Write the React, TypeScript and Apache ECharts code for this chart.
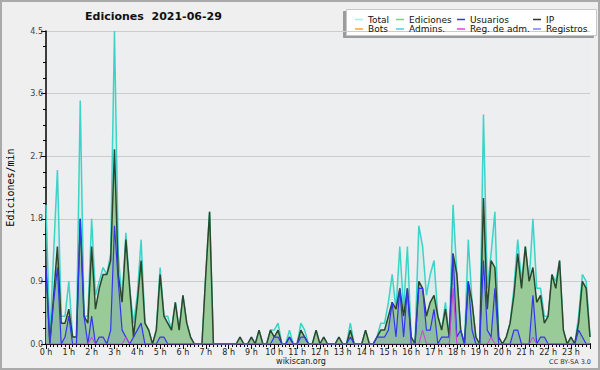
import React, { useEffect, useRef } from "react";
import * as echarts from "echarts";

// 10-minute slots (0 = 00:00 ... 143 = 23:50), values in edits per minute
const totalValues = [
  2.0, 0.1, 1.3, 2.5, 0.4, 0.4, 0.9, 0.1, 0.1, 3.5, 0.4, 0.4, 1.8, 0.7, 0.9, 1.1, 1.0, 1.3, 4.5, 1.3,
  0.6, 1.6, 0.8, 0.3, 0.7, 1.5, 0.3, 0.2, 0, 0.2, 1.1, 0.4, 0.4, 0.2, 0.6, 0.2, 0.7, 0.3, 0.1, 0,
  0, 0, 1.0, 1.9, 0, 0, 0, 0, 0, 0, 0, 0.1, 0, 0, 0.1, 0, 0.2, 0, 0, 0.2,
  0.2, 0.3, 0, 0, 0.2, 0, 0, 0.3, 0.2, 0, 0, 0.2, 0, 0.1, 0, 0, 0, 0.1, 0, 0,
  0.3, 0, 0, 0, 0.2, 0, 0, 0.1, 0.3, 0.3, 0.6, 1.0, 0.5, 1.4, 0.5, 1.4, 0.1, 0, 1.7, 1.4,
  0.7, 1.0, 1.2, 0.4, 0.2, 0.6, 0.1, 2.0, 1.0, 0.2, 0, 1.5, 0.6, 0.1, 0, 3.3, 0.8, 1.3, 1.9, 0.1,
  0, 0.1, 0.3, 0.8, 1.5, 0.9, 1.4, 0.9, 1.8, 0.8, 0.8, 0.4, 0.4, 1.0, 0.9, 1.2, 0.2, 0, 0.1, 0,
  0.4, 1.0, 0.9, 0.1,
];
const edicionesValues = [
  1.1, 0, 0.7, 1.4, 0.3, 0.3, 0.5, 0.1, 0.1, 1.8, 0.4, 0.3, 1.4, 0.5, 0.8, 1.0, 1.0, 1.2, 2.8, 1.0,
  0.6, 1.5, 0.8, 0.1, 0.6, 1.2, 0.3, 0.2, 0, 0.2, 1.0, 0.4, 0.3, 0.2, 0.6, 0.2, 0.7, 0.3, 0.1, 0,
  0, 0, 1.0, 1.9, 0, 0, 0, 0, 0, 0, 0, 0.1, 0, 0, 0.1, 0, 0.2, 0, 0, 0.2,
  0.1, 0.2, 0, 0, 0.1, 0, 0, 0.2, 0.1, 0, 0, 0.2, 0, 0.1, 0, 0, 0, 0.1, 0, 0,
  0.2, 0, 0, 0, 0.2, 0, 0, 0.1, 0.2, 0.2, 0.4, 0.6, 0.5, 0.8, 0.4, 0.8, 0.1, 0, 0.9, 0.8,
  0.4, 0.6, 0.7, 0.4, 0.2, 0.5, 0.1, 1.3, 1.0, 0.2, 0, 0.9, 0.6, 0.1, 0, 2.1, 0.5, 1.2, 1.1, 0.1,
  0, 0.1, 0.3, 0.7, 1.3, 0.8, 1.4, 0.9, 1.1, 0.6, 0.7, 0.3, 0.4, 1.0, 0.8, 1.2, 0.2, 0, 0.1, 0,
  0.3, 0.9, 0.8, 0.1,
];
const usuariosValues = [
  1.1, 0, 0.6, 1.1, 0, 0.1, 0.4, 0, 0, 1.8, 0.4, 0, 0.4, 0, 0.1, 0.1, 0, 0.2, 1.7, 0.9,
  0.2, 0.1, 0, 0.1, 0.2, 0.3, 0, 0, 0, 0, 0.1, 0.1, 0, 0, 0, 0, 0, 0, 0, 0,
  0, 0, 0, 0, 0, 0, 0, 0, 0, 0, 0, 0, 0, 0, 0, 0, 0, 0, 0, 0,
  0.1, 0.1, 0, 0, 0.1, 0, 0, 0.1, 0.1, 0, 0, 0, 0, 0, 0, 0, 0, 0, 0, 0,
  0.1, 0, 0, 0, 0, 0, 0, 0.1, 0.1, 0.1, 0.2, 0.6, 0.1, 0.8, 0.1, 0.8, 0, 0, 0.8, 0.8,
  0.2, 0.2, 0.5, 0, 0.1, 0.1, 0.1, 1.3, 0.1, 0.2, 0, 0.9, 0.2, 0, 0, 1.2, 0.2, 0.1, 0.8, 0,
  0, 0, 0, 0.2, 0.2, 0, 0, 0, 0.7, 0, 0.1, 0.1, 0, 0, 0, 0, 0, 0, 0, 0,
  0.2, 0.1, 0, 0,
];
// Reg. de adm. : non-zero slots only
const regAdmSlots = [12, 21, 99, 107, 117, 128];
const regAdmValues = [0.1, 0.1, 0.2, 0.8, 0.1, 0.1];

const yTicks = [0, 0.9, 1.8, 2.7, 3.6, 4.5];
const legendRows = [
  ["Total", "Ediciones", "Usuarios", "IP"],
  ["Bots", "Admins.", "Reg. de adm.", "Registros"],
];
const legendColors: Record<string, string> = {
  Total: "#a6ece6",
  Ediciones: "#80cc80",
  Usuarios: "#3434f0",
  IP: "#333333",
  Bots: "#ffa030",
  "Admins.": "#40d4e4",
  "Reg. de adm.": "#e040e0",
  Registros: "#8080ff",
};

const toPairs = (vals: number[]) => vals.map((v, i) => [i, v]);

export default function App() {
  const ref = useRef<HTMLDivElement>(null);
  useEffect(() => {
    if (!ref.current) return;
    const chart = echarts.init(ref.current, undefined, { renderer: "svg" });
    const regAdm = totalValues.map((_, i) => {
      const k = regAdmSlots.indexOf(i);
      return [i, k >= 0 ? regAdmValues[k] : 0];
    });
    const colLefts = [355, 396, 457, 533];
    const rowTops = [14.5, 24];
    const legends: any[] = [];
    legendRows.forEach((row, r) =>
      row.forEach((name, c) =>
        legends.push({
          left: colLefts[c],
          top: rowTops[r],
          padding: 0,
          itemWidth: 8,
          itemHeight: 1.5,
          icon: "rect",
          selectedMode: false,
          textStyle: { fontSize: 9, color: "#111", lineHeight: 10, fontFamily: "DejaVu Sans" },
          data: [{ name, itemStyle: { color: legendColors[name] } }],
        })
      )
    );
    const option: any = {
      animation: false,
      backgroundColor: "#efefef",
      textStyle: { fontFamily: "DejaVu Sans" },
      title: {
        text: "Ediciones  2021-06-29",
        left: 85,
        top: 11,
        padding: 0,
        textStyle: { fontSize: 11, fontWeight: "bold", color: "#111", fontFamily: "DejaVu Sans" },
      },
      legend: legends,
      graphic: [
        {
          type: "rect",
          shape: { x: 1, y: 1, width: 598, height: 368 },
          style: { fill: "none", stroke: "#aaaaaa", lineWidth: 2 },
          silent: true,
          z: 100,
        },
        {
          type: "rect",
          shape: { x: 346.5, y: 9.5, width: 250, height: 26 },
          style: {
            fill: "#ffffff",
            stroke: "#c8c8c8",
            lineWidth: 1,
            shadowColor: "rgba(0,0,0,0.35)",
            shadowOffsetX: -3,
            shadowOffsetY: 2,
            shadowBlur: 0,
          },
          silent: true,
          z: 0,
        },
        {
          type: "text",
          x: 301,
          y: 361,
          style: { text: "wikiscan.org", fontSize: 8, fill: "#222", align: "center", verticalAlign: "middle", fontFamily: "DejaVu Sans" },
        },
        {
          type: "text",
          x: 591,
          y: 362,
          style: { text: "CC BY-SA 3.0", fontSize: 6.5, fill: "#333", align: "right", verticalAlign: "middle", fontFamily: "DejaVu Sans" },
        },
      ],
      grid: {
        left: 46,
        right: 10,
        top: 31,
        bottom: 26,
        containLabel: false,
        outerBoundsMode: "none",
        show: true,
        backgroundColor: "#eceef0",
        borderWidth: 0,
      },
      xAxis: {
        type: "value",
        min: 0,
        max: 143,
        interval: 6,
        axisLine: { show: true, lineStyle: { color: "#000", width: 2 } },
        axisTick: { show: true, length: 5, lineStyle: { color: "#000" } },
        minorTick: { show: true, splitNumber: 6, length: 3, lineStyle: { color: "#000" } },
        splitLine: { show: false },
        axisLabel: {
          fontSize: 8,
          color: "#222",
          margin: 4,
          formatter: (v: number) => (v % 6 === 0 && v < 144 ? `${v / 6} h` : ""),
        },
      },
      yAxis: {
        type: "value",
        min: yTicks[0],
        max: yTicks[yTicks.length - 1],
        interval: 0.9,
        name: "Ediciones/min",
        nameLocation: "middle",
        nameRotate: 90,
        nameGap: 31,
        nameTextStyle: { fontFamily: "DejaVu Sans Mono", fontSize: 10, color: "#000" },
        axisLine: { show: true, lineStyle: { color: "#000", width: 1.5 } },
        axisTick: { show: true, length: 5, lineStyle: { color: "#000" } },
        minorTick: { show: true, splitNumber: 4, length: 3, lineStyle: { color: "#000" } },
        splitLine: { show: true, lineStyle: { color: "#cccccc", width: 1 } },
        axisLabel: { fontSize: 8, color: "#444", margin: 3, formatter: (v: number) => v.toFixed(1) },
      },
      series: [
        {
          name: "Total",
          type: "line",
          data: toPairs(totalValues),
          symbol: "none",
          lineStyle: { color: "#3cd4c8", width: 1.5 },
          itemStyle: { color: "#3cd4c8" },
          areaStyle: { color: "rgba(150,225,215,0.25)" },
          z: 2,
        },
        {
          name: "Ediciones",
          type: "line",
          data: toPairs(edicionesValues),
          symbol: "none",
          lineStyle: { color: "#2b472b", width: 1.5 },
          itemStyle: { color: "#80cc80" },
          areaStyle: { color: "#98cb98", opacity: 1 },
          z: 3,
        },
        {
          name: "Usuarios",
          type: "line",
          data: toPairs(usuariosValues),
          symbol: "none",
          lineStyle: { color: "#3434f0", width: 1.2 },
          itemStyle: { color: "#3434f0" },
          areaStyle: { color: "rgba(70,90,240,0.2)" },
          z: 4,
        },
        {
          name: "Reg. de adm.",
          type: "line",
          data: regAdm,
          symbol: "none",
          lineStyle: { color: "#d040d0", width: 1 },
          itemStyle: { color: "#e040e0" },
          z: 5,
        },
        { name: "IP", type: "line", data: [], symbol: "none", itemStyle: { color: "#333" } },
        { name: "Bots", type: "line", data: [], symbol: "none", itemStyle: { color: "#ffa030" } },
        { name: "Admins.", type: "line", data: [], symbol: "none", itemStyle: { color: "#40d4e4" } },
        { name: "Registros", type: "line", data: [], symbol: "none", itemStyle: { color: "#8080ff" } },
      ],
    };
    chart.setOption(option);
    return () => chart.dispose();
  }, []);
  return (
    <div
      ref={ref}
      style={{ position: "fixed", left: 0, top: 0, width: 600, height: 370 }}
    />
  );
}
